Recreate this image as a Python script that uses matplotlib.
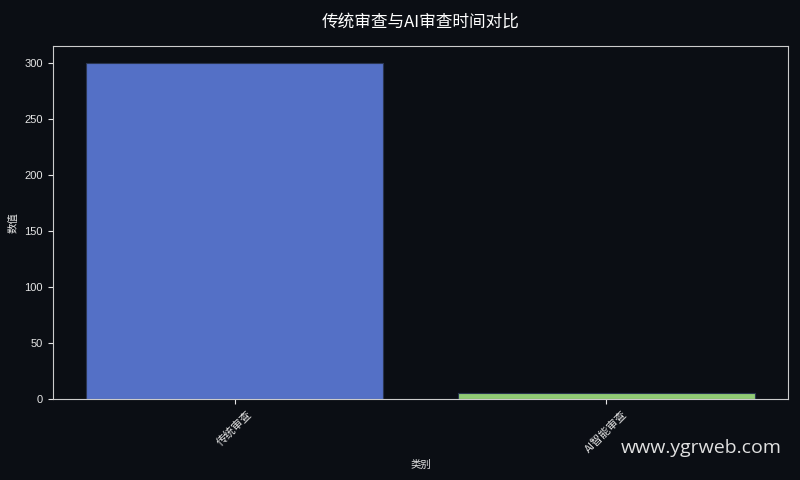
import matplotlib
matplotlib.use("Agg")
import matplotlib.pyplot as plt

categories = ["传统审查", "AI智能审查"]
values = [300, 5]
bar_colors = ["#5470c6", "#91cc75"]

plt.rcParams['font.family'] = ['Liberation Sans', 'Noto Sans CJK SC', 'DejaVu Sans']

bg = "#0b0e14"
fig, ax = plt.subplots(figsize=(8, 4.8), dpi=100)
fig.patch.set_facecolor(bg)
ax.set_facecolor(bg)

ax.bar(categories, values, width=0.8, color=bar_colors, edgecolor="#2a3550", linewidth=0.8)

ax.set_title("传统审查与AI审查时间对比", color="white", fontsize=12,
             family=['Noto Sans CJK SC', 'DejaVu Sans'], pad=14)
ax.set_xlabel("类别", color="#e6e6e6", fontsize=7.5, family=['Noto Sans CJK SC', 'DejaVu Sans'])
ax.set_ylabel("数值", color="#e6e6e6", fontsize=7.5, family=['Noto Sans CJK SC', 'DejaVu Sans'])

ax.tick_params(colors="#e6e6e6", labelsize=8)
plt.setp(ax.get_xticklabels(), rotation=45, family=['Noto Sans CJK SC', 'DejaVu Sans'], fontsize=8)
for s in ax.spines.values():
    s.set_color("#cccccc")

fig.text(0.977, 0.066, "www.ygrweb.com", color="#e0e0e0", fontsize=14,
         ha="right", va="center", family=['Open Sans', 'DejaVu Sans'])

fig.subplots_adjust(left=0.066, right=0.985, top=0.904, bottom=0.169)
fig.savefig("out.png", facecolor=bg)
